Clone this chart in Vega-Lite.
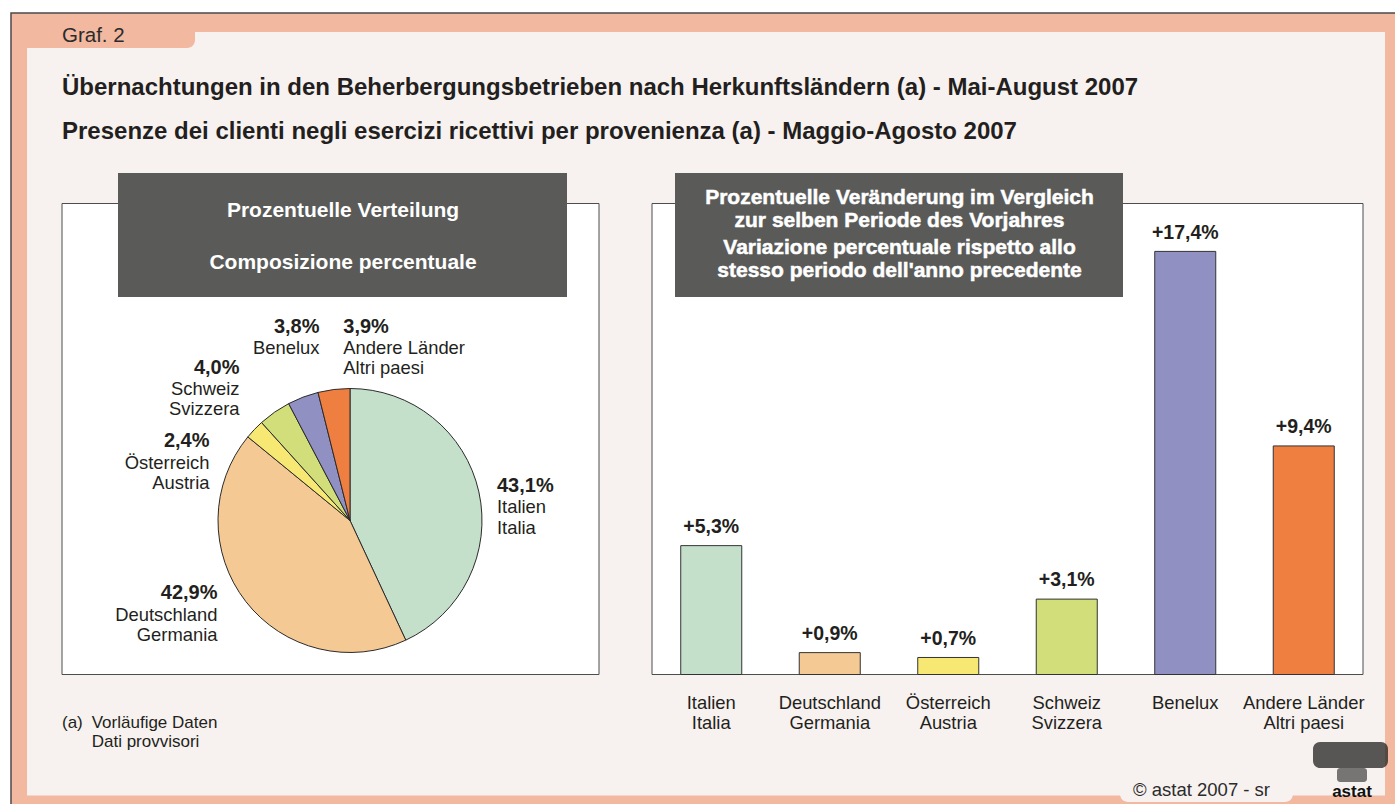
{
  "$schema": "https://vega.github.io/schema/vega-lite/v6.json",
  "width": 1395,
  "height": 804,
  "autosize": {"type": "none"},
  "padding": 0,
  "background": "#ffffff",
  "config": {
    "view": {"stroke": null},
    "font": "Liberation Sans",
    "text": {"font": "Liberation Sans", "color": "#231f20"},
    "locale": {"number": {"decimal": ",", "thousands": ".", "grouping": [3], "currency": ["", "%"]}}
  },
  "datasets": {
    "herkunft": [
      {"country": "Italia", "rank": 1, "label": "Italien\nItalia", "share": 43.1, "change": 5.3},
      {"country": "Germania", "rank": 2, "label": "Deutschland\nGermania", "share": 42.9, "change": 0.9},
      {"country": "Austria", "rank": 3, "label": "Österreich\nAustria", "share": 2.4, "change": 0.7},
      {"country": "Svizzera", "rank": 4, "label": "Schweiz\nSvizzera", "share": 4.0, "change": 3.1},
      {"country": "Benelux", "rank": 5, "label": "Benelux", "share": 3.8, "change": 17.4},
      {"country": "Altri paesi", "rank": 6, "label": "Andere Länder\nAltri paesi", "share": 3.9, "change": 9.4}
    ]
  },
  "data": {"name": "herkunft"},
  "resolve": {"scale": {"x": "independent", "y": "independent"}},
  "layer": [
    {
      "layer": [
        {
          "data": {"values": [{}]},
          "mark": {"type": "rect", "fill": "#f2b8a0", "stroke": "#4a4a4a", "strokeWidth": 1.5},
          "encoding": {
            "x": {"datum": 11, "type": "quantitative", "scale": {"domain": [0, 1395], "nice": false, "zero": false}, "axis": null},
            "x2": {"datum": 1420},
            "y": {"datum": 13, "type": "quantitative", "scale": {"domain": [0, 804], "nice": false, "zero": false, "reverse": true}, "axis": null},
            "y2": {"datum": 830}
          }
        },
        {
          "data": {"values": [{}]},
          "mark": {"type": "rect", "fill": "#f7f2ef"},
          "encoding": {
            "x": {"datum": 27, "type": "quantitative", "scale": {"domain": [0, 1395], "nice": false, "zero": false}, "axis": null},
            "x2": {"datum": 1385},
            "y": {"datum": 32, "type": "quantitative", "scale": {"domain": [0, 804], "nice": false, "zero": false, "reverse": true}, "axis": null},
            "y2": {"datum": 795.5}
          }
        },
        {
          "data": {"values": [{}]},
          "mark": {"type": "rect", "fill": "#f2b8a0", "cornerRadiusBottomRight": 8},
          "encoding": {
            "x": {"datum": 27, "type": "quantitative", "scale": {"domain": [0, 1395], "nice": false, "zero": false}, "axis": null},
            "x2": {"datum": 195},
            "y": {"datum": 25, "type": "quantitative", "scale": {"domain": [0, 804], "nice": false, "zero": false, "reverse": true}, "axis": null},
            "y2": {"datum": 48}
          }
        },
        {
          "data": {"values": [{}]},
          "mark": {"type": "rect", "fill": "#f7f2ef", "cornerRadius": 8},
          "encoding": {
            "x": {"datum": 1120, "type": "quantitative", "scale": {"domain": [0, 1395], "nice": false, "zero": false}, "axis": null},
            "x2": {"datum": 1293},
            "y": {"datum": 775, "type": "quantitative", "scale": {"domain": [0, 804], "nice": false, "zero": false, "reverse": true}, "axis": null},
            "y2": {"datum": 802}
          }
        },
        {
          "data": {"values": [{}]},
          "mark": {"type": "rect", "fill": "#ffffff", "stroke": "#4d4d4d", "strokeWidth": 1},
          "encoding": {
            "x": {"datum": 62, "type": "quantitative", "scale": {"domain": [0, 1395], "nice": false, "zero": false}, "axis": null},
            "x2": {"datum": 599},
            "y": {"datum": 203.5, "type": "quantitative", "scale": {"domain": [0, 804], "nice": false, "zero": false, "reverse": true}, "axis": null},
            "y2": {"datum": 674.5}
          }
        },
        {
          "data": {"values": [{}]},
          "mark": {"type": "rect", "fill": "#ffffff", "stroke": "#4d4d4d", "strokeWidth": 1},
          "encoding": {
            "x": {"datum": 652, "type": "quantitative", "scale": {"domain": [0, 1395], "nice": false, "zero": false}, "axis": null},
            "x2": {"datum": 1363},
            "y": {"datum": 203.5, "type": "quantitative", "scale": {"domain": [0, 804], "nice": false, "zero": false, "reverse": true}, "axis": null},
            "y2": {"datum": 674.5}
          }
        },
        {
          "data": {"values": [{}]},
          "mark": {"type": "rect", "fill": "#5a5b58"},
          "encoding": {
            "x": {"datum": 118, "type": "quantitative", "scale": {"domain": [0, 1395], "nice": false, "zero": false}, "axis": null},
            "x2": {"datum": 567},
            "y": {"datum": 173, "type": "quantitative", "scale": {"domain": [0, 804], "nice": false, "zero": false, "reverse": true}, "axis": null},
            "y2": {"datum": 297}
          }
        },
        {
          "data": {"values": [{}]},
          "mark": {"type": "rect", "fill": "#5a5b58"},
          "encoding": {
            "x": {"datum": 675, "type": "quantitative", "scale": {"domain": [0, 1395], "nice": false, "zero": false}, "axis": null},
            "x2": {"datum": 1123},
            "y": {"datum": 173, "type": "quantitative", "scale": {"domain": [0, 804], "nice": false, "zero": false, "reverse": true}, "axis": null},
            "y2": {"datum": 297}
          }
        },
        {
          "mark": {"type": "arc", "outerRadius": 132, "stroke": "#2b2b2b", "strokeWidth": 1},
          "encoding": {
            "x": {"datum": 350, "type": "quantitative", "scale": {"domain": [0, 1395], "nice": false, "zero": false}, "axis": null},
            "y": {"datum": 520.5, "type": "quantitative", "scale": {"domain": [0, 804], "nice": false, "zero": false, "reverse": true}, "axis": null},
            "theta": {"field": "share", "type": "quantitative", "stack": true},
            "order": {"field": "rank", "type": "quantitative"},
            "color": {
              "field": "country", "type": "nominal", "legend": null,
              "scale": {
                "domain": ["Italia", "Germania", "Austria", "Svizzera", "Benelux", "Altri paesi"],
                "range": ["#c4e0cb", "#f4c994", "#f7e874", "#d1de7a", "#9190c3", "#ef7f40"]
              }
            }
          }
        },
        {
          "transform": [{"filter": "datum.country === 'Italia'"}],
          "encoding": {
            "x": {"datum": 497, "type": "quantitative", "scale": {"domain": [0, 1395], "nice": false, "zero": false}, "axis": null},
            "y": {"datum": 492, "type": "quantitative", "scale": {"domain": [0, 804], "nice": false, "zero": false, "reverse": true}, "axis": null}
          },
          "layer": [
            {"mark": {"type": "text", "align": "left", "baseline": "alphabetic", "fontWeight": "bold", "fontSize": 20}, "encoding": {"text": {"field": "share", "format": "$.1f"}}},
            {"mark": {"type": "text", "align": "left", "baseline": "alphabetic", "fontSize": 18.4, "lineBreak": "\n", "lineHeight": 20.5, "dy": 21}, "encoding": {"text": {"field": "label"}}}
          ]
        },
        {
          "transform": [{"filter": "datum.country === 'Germania'"}],
          "encoding": {
            "x": {"datum": 217.5, "type": "quantitative", "scale": {"domain": [0, 1395], "nice": false, "zero": false}, "axis": null},
            "y": {"datum": 599, "type": "quantitative", "scale": {"domain": [0, 804], "nice": false, "zero": false, "reverse": true}, "axis": null}
          },
          "layer": [
            {"mark": {"type": "text", "align": "right", "baseline": "alphabetic", "fontWeight": "bold", "fontSize": 20}, "encoding": {"text": {"field": "share", "format": "$.1f"}}},
            {"mark": {"type": "text", "align": "right", "baseline": "alphabetic", "fontSize": 18.4, "lineBreak": "\n", "lineHeight": 20.5, "dy": 21.5}, "encoding": {"text": {"field": "label"}}}
          ]
        },
        {
          "transform": [{"filter": "datum.country === 'Austria'"}],
          "encoding": {
            "x": {"datum": 209.5, "type": "quantitative", "scale": {"domain": [0, 1395], "nice": false, "zero": false}, "axis": null},
            "y": {"datum": 446.7, "type": "quantitative", "scale": {"domain": [0, 804], "nice": false, "zero": false, "reverse": true}, "axis": null}
          },
          "layer": [
            {"mark": {"type": "text", "align": "right", "baseline": "alphabetic", "fontWeight": "bold", "fontSize": 20}, "encoding": {"text": {"field": "share", "format": "$.1f"}}},
            {"mark": {"type": "text", "align": "right", "baseline": "alphabetic", "fontSize": 18.4, "lineBreak": "\n", "lineHeight": 20, "dy": 22}, "encoding": {"text": {"field": "label"}}}
          ]
        },
        {
          "transform": [{"filter": "datum.country === 'Svizzera'"}],
          "encoding": {
            "x": {"datum": 239.5, "type": "quantitative", "scale": {"domain": [0, 1395], "nice": false, "zero": false}, "axis": null},
            "y": {"datum": 374.3, "type": "quantitative", "scale": {"domain": [0, 804], "nice": false, "zero": false, "reverse": true}, "axis": null}
          },
          "layer": [
            {"mark": {"type": "text", "align": "right", "baseline": "alphabetic", "fontWeight": "bold", "fontSize": 20}, "encoding": {"text": {"field": "share", "format": "$.1f"}}},
            {"mark": {"type": "text", "align": "right", "baseline": "alphabetic", "fontSize": 18.4, "lineBreak": "\n", "lineHeight": 20.3, "dy": 20.7}, "encoding": {"text": {"field": "label"}}}
          ]
        },
        {
          "transform": [{"filter": "datum.country === 'Benelux'"}],
          "encoding": {
            "x": {"datum": 319.5, "type": "quantitative", "scale": {"domain": [0, 1395], "nice": false, "zero": false}, "axis": null},
            "y": {"datum": 333.3, "type": "quantitative", "scale": {"domain": [0, 804], "nice": false, "zero": false, "reverse": true}, "axis": null}
          },
          "layer": [
            {"mark": {"type": "text", "align": "right", "baseline": "alphabetic", "fontWeight": "bold", "fontSize": 20}, "encoding": {"text": {"field": "share", "format": "$.1f"}}},
            {"mark": {"type": "text", "align": "right", "baseline": "alphabetic", "fontSize": 18.4, "lineBreak": "\n", "lineHeight": 20.3, "dy": 21}, "encoding": {"text": {"field": "label"}}}
          ]
        },
        {
          "transform": [{"filter": "datum.country === 'Altri paesi'"}],
          "encoding": {
            "x": {"datum": 343.3, "type": "quantitative", "scale": {"domain": [0, 1395], "nice": false, "zero": false}, "axis": null},
            "y": {"datum": 333.3, "type": "quantitative", "scale": {"domain": [0, 804], "nice": false, "zero": false, "reverse": true}, "axis": null}
          },
          "layer": [
            {"mark": {"type": "text", "align": "left", "baseline": "alphabetic", "fontWeight": "bold", "fontSize": 20}, "encoding": {"text": {"field": "share", "format": "$.1f"}}},
            {"mark": {"type": "text", "align": "left", "baseline": "alphabetic", "fontSize": 18.4, "lineBreak": "\n", "lineHeight": 20, "dy": 21}, "encoding": {"text": {"field": "label"}}}
          ]
        },
        {
          "data": {"values": [{}]},
          "mark": {"type": "text", "text": "Graf. 2", "align": "left", "baseline": "alphabetic", "fontSize": 20.5, "color": "#2b2b2b"},
          "encoding": {
            "x": {"datum": 62, "type": "quantitative", "scale": {"domain": [0, 1395], "nice": false, "zero": false}, "axis": null},
            "y": {"datum": 41.7, "type": "quantitative", "scale": {"domain": [0, 804], "nice": false, "zero": false, "reverse": true}, "axis": null}
          }
        },
        {
          "data": {"values": [{}]},
          "mark": {"type": "text", "text": "Übernachtungen in den Beherbergungsbetrieben nach Herkunftsländern (a) - Mai-August 2007", "align": "left", "baseline": "alphabetic", "fontSize": 24, "fontWeight": "bold", "color": "#231f20"},
          "encoding": {
            "x": {"datum": 62, "type": "quantitative", "scale": {"domain": [0, 1395], "nice": false, "zero": false}, "axis": null},
            "y": {"datum": 95, "type": "quantitative", "scale": {"domain": [0, 804], "nice": false, "zero": false, "reverse": true}, "axis": null}
          }
        },
        {
          "data": {"values": [{}]},
          "mark": {"type": "text", "text": "Presenze dei clienti negli esercizi ricettivi per provenienza (a) - Maggio-Agosto 2007", "align": "left", "baseline": "alphabetic", "fontSize": 24, "fontWeight": "bold", "color": "#231f20"},
          "encoding": {
            "x": {"datum": 62, "type": "quantitative", "scale": {"domain": [0, 1395], "nice": false, "zero": false}, "axis": null},
            "y": {"datum": 139, "type": "quantitative", "scale": {"domain": [0, 804], "nice": false, "zero": false, "reverse": true}, "axis": null}
          }
        },
        {
          "data": {"values": [{}]},
          "mark": {"type": "text", "text": "Prozentuelle Verteilung", "align": "center", "baseline": "alphabetic", "fontSize": 21, "fontWeight": "bold", "color": "#ffffff"},
          "encoding": {
            "x": {"datum": 343, "type": "quantitative", "scale": {"domain": [0, 1395], "nice": false, "zero": false}, "axis": null},
            "y": {"datum": 216.5, "type": "quantitative", "scale": {"domain": [0, 804], "nice": false, "zero": false, "reverse": true}, "axis": null}
          }
        },
        {
          "data": {"values": [{}]},
          "mark": {"type": "text", "text": "Composizione percentuale", "align": "center", "baseline": "alphabetic", "fontSize": 21, "fontWeight": "bold", "color": "#ffffff"},
          "encoding": {
            "x": {"datum": 343, "type": "quantitative", "scale": {"domain": [0, 1395], "nice": false, "zero": false}, "axis": null},
            "y": {"datum": 269, "type": "quantitative", "scale": {"domain": [0, 804], "nice": false, "zero": false, "reverse": true}, "axis": null}
          }
        },
        {
          "data": {"values": [{}]},
          "mark": {"type": "text", "text": ["Prozentuelle Veränderung im Vergleich", "zur selben Periode des Vorjahres"], "align": "center", "baseline": "alphabetic", "fontSize": 21, "fontWeight": "bold", "color": "#ffffff", "lineHeight": 22.4, "stroke": "#ffffff", "strokeWidth": 0.5},
          "encoding": {
            "x": {"datum": 899.5, "type": "quantitative", "scale": {"domain": [0, 1395], "nice": false, "zero": false}, "axis": null},
            "y": {"datum": 204.3, "type": "quantitative", "scale": {"domain": [0, 804], "nice": false, "zero": false, "reverse": true}, "axis": null}
          }
        },
        {
          "data": {"values": [{}]},
          "mark": {"type": "text", "text": ["Variazione percentuale rispetto allo", "stesso periodo dell'anno precedente"], "align": "center", "baseline": "alphabetic", "fontSize": 21, "fontWeight": "bold", "color": "#ffffff", "lineHeight": 22.7, "stroke": "#ffffff", "strokeWidth": 0.5},
          "encoding": {
            "x": {"datum": 899.5, "type": "quantitative", "scale": {"domain": [0, 1395], "nice": false, "zero": false}, "axis": null},
            "y": {"datum": 254, "type": "quantitative", "scale": {"domain": [0, 804], "nice": false, "zero": false, "reverse": true}, "axis": null}
          }
        },
        {
          "data": {"values": [{}]},
          "mark": {"type": "text", "text": "(a)", "align": "left", "baseline": "alphabetic", "fontSize": 17, "color": "#231f20"},
          "encoding": {
            "x": {"datum": 62, "type": "quantitative", "scale": {"domain": [0, 1395], "nice": false, "zero": false}, "axis": null},
            "y": {"datum": 727.7, "type": "quantitative", "scale": {"domain": [0, 804], "nice": false, "zero": false, "reverse": true}, "axis": null}
          }
        },
        {
          "data": {"values": [{}]},
          "mark": {"type": "text", "text": ["Vorläufige Daten", "Dati provvisori"], "align": "left", "baseline": "alphabetic", "fontSize": 17, "lineHeight": 19, "color": "#231f20"},
          "encoding": {
            "x": {"datum": 91.7, "type": "quantitative", "scale": {"domain": [0, 1395], "nice": false, "zero": false}, "axis": null},
            "y": {"datum": 727.7, "type": "quantitative", "scale": {"domain": [0, 804], "nice": false, "zero": false, "reverse": true}, "axis": null}
          }
        },
        {
          "data": {"values": [{}]},
          "mark": {"type": "text", "text": "©  astat 2007 - sr", "align": "left", "baseline": "alphabetic", "fontSize": 18.5, "color": "#2b2b2b"},
          "encoding": {
            "x": {"datum": 1133, "type": "quantitative", "scale": {"domain": [0, 1395], "nice": false, "zero": false}, "axis": null},
            "y": {"datum": 796, "type": "quantitative", "scale": {"domain": [0, 804], "nice": false, "zero": false, "reverse": true}, "axis": null}
          }
        },
        {
          "data": {"values": [{}]},
          "mark": {"type": "rect", "fill": "#222222", "opacity": 0.75, "cornerRadius": 7},
          "encoding": {
            "x": {"datum": 1313, "type": "quantitative", "scale": {"domain": [0, 1395], "nice": false, "zero": false}, "axis": null},
            "x2": {"datum": 1388},
            "y": {"datum": 742, "type": "quantitative", "scale": {"domain": [0, 804], "nice": false, "zero": false, "reverse": true}, "axis": null},
            "y2": {"datum": 768}
          }
        },
        {
          "data": {"values": [{}]},
          "mark": {"type": "rect", "fill": "#222222", "opacity": 0.6, "cornerRadius": 3},
          "encoding": {
            "x": {"datum": 1337, "type": "quantitative", "scale": {"domain": [0, 1395], "nice": false, "zero": false}, "axis": null},
            "x2": {"datum": 1367},
            "y": {"datum": 768, "type": "quantitative", "scale": {"domain": [0, 804], "nice": false, "zero": false, "reverse": true}, "axis": null},
            "y2": {"datum": 782}
          }
        },
        {
          "data": {"values": [{}]},
          "mark": {"type": "text", "text": "astat", "align": "center", "baseline": "alphabetic", "fontSize": 17, "fontWeight": "bold", "color": "#111111"},
          "encoding": {
            "x": {"datum": 1352, "type": "quantitative", "scale": {"domain": [0, 1395], "nice": false, "zero": false}, "axis": null},
            "y": {"datum": 797, "type": "quantitative", "scale": {"domain": [0, 804], "nice": false, "zero": false, "reverse": true}, "axis": null}
          }
        }
      ]
    },
    {
      "layer": [
        {
          "mark": {"type": "bar", "stroke": "#333333", "strokeWidth": 1},
          "encoding": {
            "x": {"field": "country", "type": "nominal", "sort": ["Italia", "Germania", "Austria", "Svizzera", "Benelux", "Altri paesi"], "scale": {"range": [652, 1363], "paddingInner": 0.485, "paddingOuter": 0.2425}, "axis": null},
            "y": {"field": "change", "type": "quantitative", "scale": {"domain": [0, 19.37], "range": [674.5, 203.5], "nice": false}, "axis": null},
            "color": {
              "field": "country", "type": "nominal", "legend": null,
              "scale": {
                "domain": ["Italia", "Germania", "Austria", "Svizzera", "Benelux", "Altri paesi"],
                "range": ["#c4e0cb", "#f4c994", "#f7e874", "#d1de7a", "#9190c3", "#ef7f40"]
              }
            }
          }
        },
        {
          "mark": {"type": "text", "align": "center", "baseline": "alphabetic", "fontWeight": "bold", "fontSize": 19.5, "dy": -12.7},
          "encoding": {
            "x": {"field": "country", "type": "nominal", "sort": ["Italia", "Germania", "Austria", "Svizzera", "Benelux", "Altri paesi"], "axis": null},
            "y": {"field": "change", "type": "quantitative", "axis": null},
            "text": {"field": "change", "format": "+$.1f"}
          }
        },
        {
          "mark": {"type": "text", "align": "center", "baseline": "alphabetic", "fontSize": 18.4, "lineBreak": "\n", "lineHeight": 20, "dy": 34},
          "encoding": {
            "x": {"field": "country", "type": "nominal", "sort": ["Italia", "Germania", "Austria", "Svizzera", "Benelux", "Altri paesi"], "axis": null},
            "y": {"datum": 0, "type": "quantitative", "axis": null},
            "text": {"field": "label"}
          }
        }
      ]
    }
  ]
}
